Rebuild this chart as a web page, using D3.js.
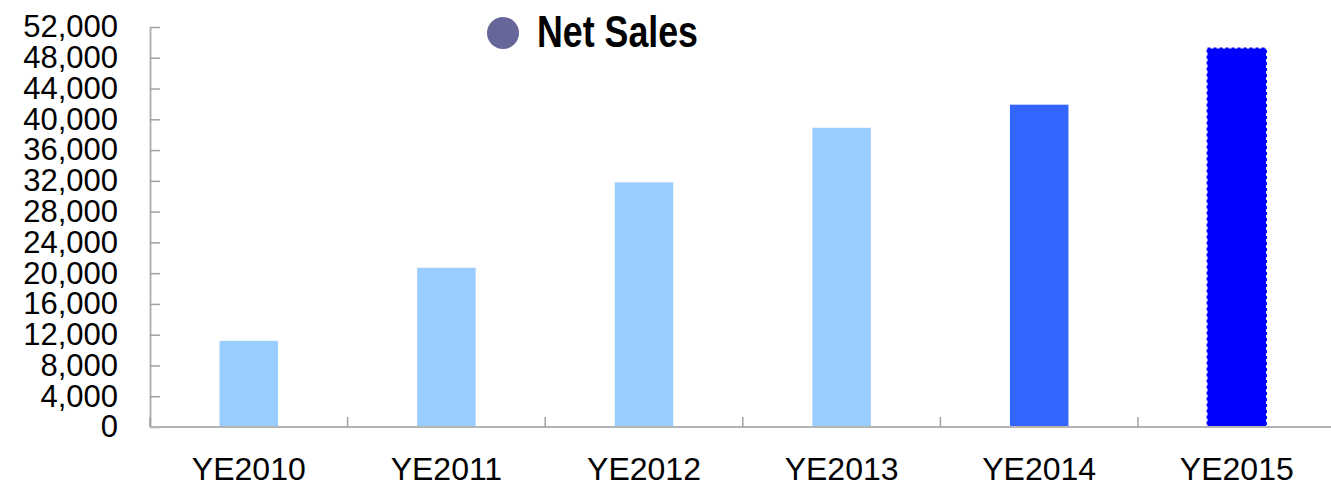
<!DOCTYPE html>
<html>
<head>
<meta charset="utf-8">
<script src="https://cdn.jsdelivr.net/npm/d3@7"></script>
<style>
  body { margin: 0; background: #fff; }
  svg { display: block; }
</style>
</head>
<body>
<div id="chart"></div>
<script>
// data
var years = ["YE2010", "YE2011", "YE2012", "YE2013", "YE2014", "YE2015"];
var netSales = [11200, 20700, 31800, 38900, 41900, 49200];
var barColors = ["#99CCFF", "#99CCFF", "#99CCFF", "#99CCFF", "#3366FF", "#0000FF"];
var yTicks = d3.range(0, 52001, 4000);
var seriesName = "Net Sales";

var W = 1331, H = 500;
var margin = { top: 27, left: 150, bottom: 73 };
var plotBottom = H - margin.bottom;

var svg = d3.select("#chart").append("svg")
    .attr("width", W)
    .attr("height", H);

var x = d3.scaleBand()
    .domain(years)
    .range([margin.left, margin.left + 197.6 * years.length]);

var y = d3.scaleLinear()
    .domain([0, 52000])
    .range([plotBottom, margin.top]);

var barW = x.bandwidth() * 0.296;

// bars
svg.selectAll(".bar")
    .data(netSales)
    .enter().append("rect")
    .attr("class", "bar")
    .attr("x", function(d, i) { return x(years[i]) + (x.bandwidth() - barW) / 2; })
    .attr("y", function(d) { return y(d); })
    .attr("width", barW)
    .attr("height", function(d) { return y(0) - y(d); })
    .attr("fill", function(d, i) { return barColors[i]; })
    .attr("stroke", function(d, i) { return i == years.length - 1 ? "#0000FF" : "none"; })
    .attr("stroke-width", 2)
    .attr("stroke-dasharray", "3,3");

// y axis
var yAxis = d3.axisLeft(y)
    .tickValues(yTicks)
    .tickFormat(d3.format(","))
    .tickSize(-10)
    .tickSizeOuter(0)
    .tickPadding(32);

var gy = svg.append("g")
    .attr("transform", "translate(" + margin.left + ",0)")
    .call(yAxis);
gy.select(".domain").attr("stroke", "#b4b4b4").attr("stroke-width", 2);
gy.selectAll(".tick line").attr("stroke", "#a0a0a0").attr("stroke-width", 1.5);
gy.selectAll(".tick text")
    .attr("fill", "#000")
    .style("font-family", "'Liberation Sans', Arial, sans-serif")
    .style("font-size", "31px");

// x axis line
svg.append("line")
    .attr("x1", margin.left)
    .attr("x2", x.range()[1])
    .attr("y1", plotBottom)
    .attr("y2", plotBottom)
    .attr("stroke", "#b4b4b4")
    .attr("stroke-width", 2);

// category boundary ticks
var bounds = years.map(function(c) { return x(c); }).concat([x.range()[1]]);
svg.selectAll(".xtick")
    .data(bounds)
    .enter().append("line")
    .attr("class", "xtick")
    .attr("x1", function(d) { return d; })
    .attr("x2", function(d) { return d; })
    .attr("y1", plotBottom)
    .attr("y2", plotBottom - 10)
    .attr("stroke", "#a0a0a0")
    .attr("stroke-width", 1.5);

// category labels
svg.selectAll(".xlabel")
    .data(years)
    .enter().append("text")
    .attr("class", "xlabel")
    .attr("x", function(d) { return x(d) + x.bandwidth() / 2; })
    .attr("y", 480)
    .attr("text-anchor", "middle")
    .style("font-family", "'Liberation Sans', Arial, sans-serif")
    .style("font-size", "32px")
    .text(function(d) { return d; });

// legend
svg.append("circle")
    .attr("cx", 503)
    .attr("cy", 33)
    .attr("r", 16)
    .attr("fill", "#666699");

svg.append("text")
    .attr("x", 537)
    .attr("y", 47)
    .attr("textLength", 161)
    .attr("lengthAdjust", "spacingAndGlyphs")
    .style("font-family", "'Liberation Sans', Arial, sans-serif")
    .style("font-weight", "bold")
    .style("font-size", "44px")
    .text(seriesName);
</script>
</body>
</html>
